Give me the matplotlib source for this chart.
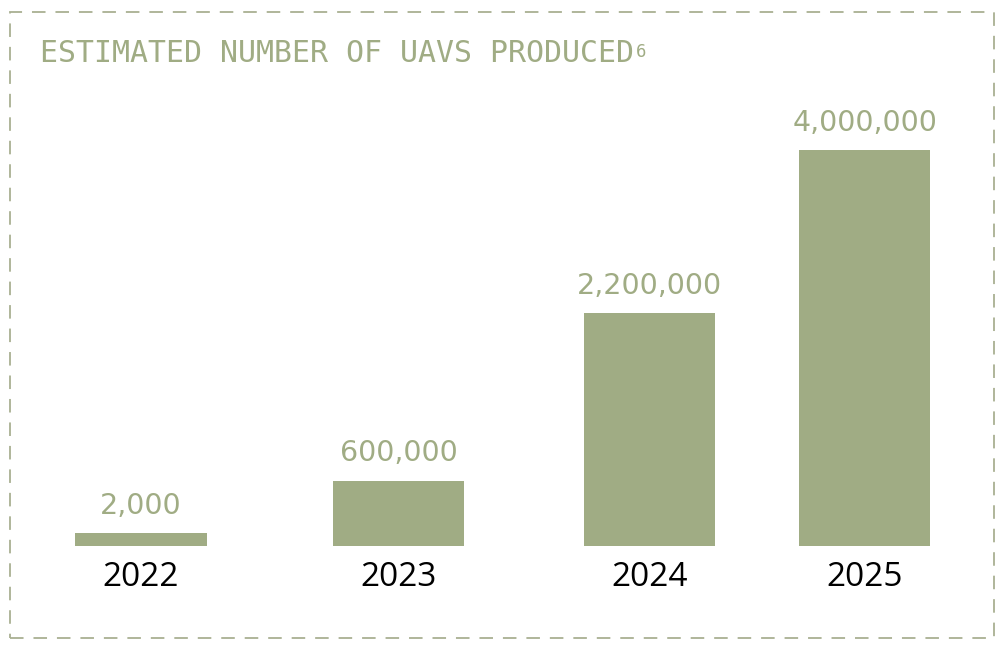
import matplotlib
matplotlib.use("Agg")
from matplotlib import pyplot as plt
from matplotlib.patches import Rectangle

# data
years = ['2022', '2023', '2024', '2025']
units = [2000, 600000, 2200000, 4000000]
# drawn bar heights (millions) as they appear in the picture (small bars get a minimum)
bar_heights = [0.13, 0.66, 2.35, 4.0]

title = 'ESTIMATED NUMBER OF UAVS PRODUCED'
note = '6'

green = '#a0ac84'
border = '#a9b092'

# layout: uneven slot positions as in the original
xpos = [0, 1.0, 1.975, 2.81]

fig = plt.figure(figsize=(10, 6.45), dpi=100)
fig.patch.set_facecolor('white')

# dashed frame
fig.patches.append(Rectangle((10 / 1000, 1 - 638 / 645), 984 / 1000, 626 / 645,
                             transform=fig.transFigure, fill=False,
                             edgecolor=border, lw=1.3, linestyle=(0, (7.5, 5.5))))

ax = fig.add_axes([0.0, 1 - 546 / 645, 1.0, 396 / 645])
ax.bar(xpos, bar_heights, width=0.509, color=green)
ax.set_xlim(-141 / 257.5, (1000 - 141) / 257.5)
ax.set_ylim(0, 4.0)
ax.axis('off')

for x, h, v, y in zip(xpos, bar_heights, units, years):
    ax.annotate(f'{v:,}', (x, h), xytext=(0, 14), textcoords='offset points',
                ha='center', va='baseline', fontsize=20.5, color=green,
                family='DejaVu Sans')
    ax.annotate(y, (x, 0), xytext=(0, -29), textcoords='offset points',
                ha='center', va='baseline', fontsize=24, color='black',
                family='Open Sans')

t = fig.text(40 / 1000, 1 - 62 / 645, title, fontsize=21.5, color=green,
             family='DejaVu Sans Mono', va='baseline', ha='left')
fig.canvas.draw()
bb = t.get_window_extent()
fig.text(bb.x1 / 1000 + 0.002, 1 - 43 / 645, note, fontsize=12.5, color=green,
         family='DejaVu Sans Mono', va='top', ha='left')

fig.savefig('out.png', dpi=100)
